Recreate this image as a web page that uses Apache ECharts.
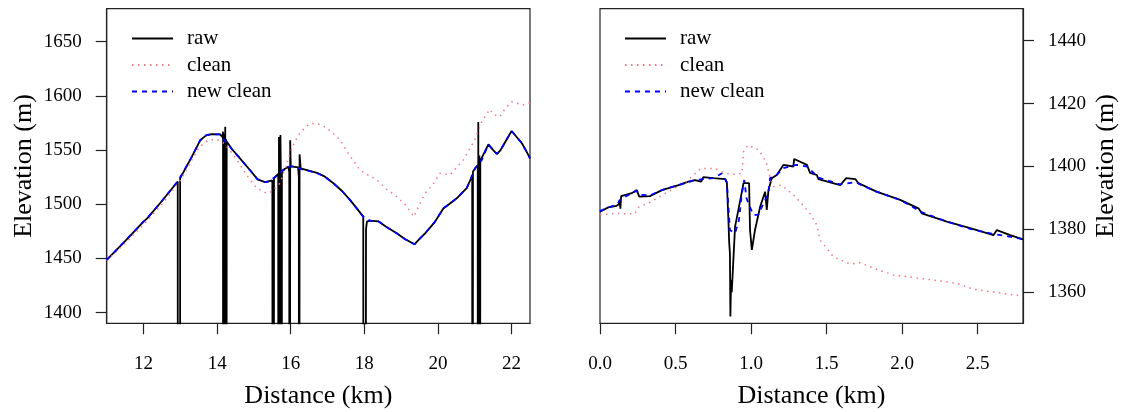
<!DOCTYPE html>
<html>
<head>
<meta charset="utf-8">
<script src="https://cdn.jsdelivr.net/npm/echarts@6/dist/echarts.min.js"></script>
<style>
html,body{margin:0;padding:0;background:#fff;}
#chart{width:1124px;height:412px;}
</style>
</head>
<body>
<div id="chart"></div>
<script>
// ---------- data (distance km, elevation m) ----------
const leftRaw = [[11.0,1448.6],[11.5,1466],[12.0,1484],[12.1,1487],[12.5,1503],[12.93,1521],[12.935,0],[12.99,0],[12.995,1524],[13.3,1543],[13.54,1559],[13.7,1563.5],[13.85,1564.6],[14.08,1564.5],[14.15,1562],[14.16,1567],[14.17,0],[14.19,1565],[14.2,0],[14.22,1571.5],[14.23,0],[14.245,1560],[14.25,0],[14.26,1558],[14.4,1551],[14.62,1542.4],[14.89,1531.6],[15.1,1523],[15.3,1520.5],[15.5,1522],[15.53,1523.5],[15.535,0],[15.545,1524],[15.66,1528],[15.665,0],[15.68,1562],[15.7,1510],[15.705,0],[15.72,1564],[15.74,1500],[15.745,0],[15.76,1531],[15.93,1534.7],[15.96,1530],[15.965,0],[15.985,1559],[16.0,1535],[16.2,1534],[16.22,1525],[16.225,0],[16.24,1546],[16.27,1533],[16.3,1532.3],[16.71,1529],[16.9,1526],[17.16,1519.4],[17.4,1512],[17.61,1504],[17.8,1496],[17.97,1488.6],[17.99,1487],[17.995,0],[18.04,0],[18.045,1477],[18.07,1484],[18.15,1484.9],[18.38,1484.3],[18.6,1479],[18.88,1473.2],[19.1,1468],[19.36,1463.1],[19.5,1468],[19.65,1473.2],[19.9,1483],[20.15,1496.3],[20.3,1500],[20.51,1505.5],[20.78,1514.8],[20.9,1524],[20.93,1527],[20.935,0],[20.95,1530],[21.01,1533.2],[21.08,1536],[21.085,0],[21.095,1576],[21.11,0],[21.125,1545],[21.13,0],[21.15,1540],[21.19,1540.8],[21.37,1555.3],[21.5,1550],[21.6,1546.4],[21.69,1549.4],[22.0,1567.6],[22.28,1556.3],[22.4,1549],[22.5,1542.4]];
const leftClean = [[11.0,1448],[11.5,1464],[12.0,1481],[12.5,1500],[13.0,1522],[13.5,1552],[13.75,1559],[13.99,1560],[14.2,1556],[14.5,1543],[14.8,1527],[15.07,1515],[15.35,1510],[15.5,1512],[15.71,1519.4],[15.85,1533],[15.98,1547],[16.1,1557],[16.25,1566],[16.52,1574.5],[16.7,1574.5],[16.89,1572.2],[17.1,1567],[17.34,1559.3],[17.6,1545],[17.88,1531.6],[18.1,1527],[18.34,1522.4],[18.6,1514],[18.88,1507],[19.1,1500],[19.35,1488.6],[19.5,1500],[19.65,1510],[19.9,1520],[20.05,1528.6],[20.32,1527],[20.69,1540.9],[21.0,1559.3],[21.2,1577],[21.41,1587.6],[21.5,1583],[21.68,1580.8],[21.8,1587],[22.0,1594.6],[22.31,1591.6],[22.5,1593.7]];
const leftNew = [[11.0,1448.6],[11.5,1466],[12.0,1484],[12.1,1487],[12.5,1503],[12.95,1522],[13.3,1543],[13.54,1559],[13.7,1563.5],[13.85,1564.6],[14.08,1564.5],[14.21,1559],[14.4,1551],[14.62,1542.4],[14.89,1531.6],[15.1,1523],[15.3,1520.5],[15.44,1521],[15.53,1524],[15.75,1530],[15.93,1534.7],[16.1,1535],[16.3,1532.3],[16.71,1529],[16.9,1526],[17.16,1519.4],[17.4,1512],[17.61,1504],[17.8,1496],[17.97,1488.6],[18.15,1484.9],[18.38,1484.3],[18.6,1479],[18.88,1473.2],[19.1,1468],[19.36,1463.1],[19.5,1468],[19.65,1473.2],[19.9,1483],[20.15,1496.3],[20.3,1500],[20.51,1505.5],[20.78,1514.8],[20.9,1524],[21.01,1533.2],[21.19,1540.8],[21.37,1555.3],[21.5,1550],[21.6,1546.4],[21.69,1549.4],[22.0,1567.6],[22.28,1556.3],[22.4,1549],[22.5,1542.4]];

const rightRaw = [[0,1385.6],[0.055,1387],[0.11,1387.5],[0.125,1388],[0.13,1389.4],[0.135,1386.6],[0.14,1390.6],[0.21,1391.5],[0.243,1392.5],[0.255,1392.3],[0.26,1390.4],[0.33,1390.6],[0.41,1392.5],[0.52,1394.1],[0.585,1395.2],[0.63,1395.7],[0.67,1395.2],[0.684,1396.6],[0.75,1396.3],[0.83,1396],[0.84,1394.7],[0.85,1383],[0.855,1376],[0.86,1372.4],[0.863,1352.3],[0.868,1364],[0.872,1360],[0.894,1380.9],[0.916,1386.2],[0.95,1394.7],[0.987,1394.7],[0.993,1379.8],[1.005,1373.5],[1.026,1379.8],[1.06,1387.2],[1.093,1392],[1.104,1386.2],[1.115,1392.5],[1.137,1396.3],[1.17,1397.3],[1.214,1400.5],[1.28,1400],[1.285,1402.4],[1.37,1400.5],[1.39,1398],[1.435,1397.3],[1.446,1396],[1.59,1394.1],[1.63,1396.3],[1.69,1396],[1.71,1394.7],[1.83,1392],[1.987,1389.4],[2.108,1386.7],[2.13,1385.1],[2.296,1382.5],[2.45,1380.4],[2.605,1378.2],[2.627,1379.8],[2.715,1378.2],[2.8,1376.8]];
const rightClean = [[0,1384.6],[0.1,1385.1],[0.23,1384.9],[0.254,1387],[0.34,1388.8],[0.45,1392],[0.56,1394.7],[0.62,1397.3],[0.67,1399.4],[0.76,1399.4],[0.83,1397.8],[0.89,1397.5],[0.94,1397.8],[0.95,1404.7],[0.98,1406.8],[1.05,1405.3],[1.1,1401.5],[1.126,1396.3],[1.15,1393.6],[1.2,1394.1],[1.29,1390.6],[1.39,1385.1],[1.435,1381.4],[1.457,1376.6],[1.545,1371.3],[1.656,1369],[1.72,1369.4],[1.81,1367.7],[1.94,1365.5],[2.03,1365],[2.19,1364],[2.36,1362.9],[2.47,1361],[2.63,1359.9],[2.8,1358.8]];
const rightNew = [[0,1385.8],[0.055,1387],[0.11,1387.8],[0.14,1389.8],[0.21,1391.5],[0.243,1392.3],[0.26,1391],[0.33,1390.8],[0.41,1392.5],[0.52,1394.1],[0.63,1395.7],[0.75,1396.3],[0.806,1397.8],[0.84,1395],[0.86,1379.8],[0.894,1378.8],[0.92,1383],[0.938,1391],[0.955,1395.7],[0.97,1389.9],[0.987,1387.8],[1.015,1384.6],[1.048,1384.6],[1.07,1387],[1.115,1391.5],[1.126,1396.3],[1.17,1397.3],[1.214,1399.5],[1.3,1400.5],[1.37,1400],[1.446,1396.5],[1.59,1394.3],[1.69,1395],[1.83,1392],[1.987,1389.4],[2.13,1385.5],[2.296,1382.5],[2.45,1380.2],[2.605,1378.5],[2.7,1377.8],[2.8,1376.9]];

const seriesNames = ['raw','clean','new clean'];
const leftXTicks = [12,14,16,18,20,22];
const leftYTicks = [1400,1450,1500,1550,1600,1650];
const rightXTicks = [0,0.5,1,1.5,2,2.5];
const rightYTicks = [1360,1380,1400,1420,1440];
const xTitle = 'Distance (km)';
const yTitle = 'Elevation (m)';

// ---------- styling ----------
const FONT = "'Liberation Serif','Times New Roman',serif";
const AX = '#222';
const colors = {raw:'#000000', clean:'#f0768a', 'new clean':'#0000ff'};

function xAxis(gi, min, max, ticks, decimals){
  return {
    type:'value', gridIndex:gi, min:min, max:max,
    name:xTitle, nameLocation:'middle', nameGap:60,
    nameTextStyle:{fontFamily:FONT, fontSize:26, color:'#000'},
    axisLine:{show:true, onZero:false, lineStyle:{color:AX, width:1.2}},
    axisTick:{show:true, length:11, inside:false, customValues:ticks, lineStyle:{color:AX, width:1.2}},
    axisLabel:{customValues:ticks, margin:31, fontFamily:FONT, fontSize:19, color:'#000',
      formatter:v=>decimals? Number(v).toFixed(decimals): String(v)},
    splitLine:{show:false}
  };
}
function yAxis(gi, min, max, ticks, pos){
  return {
    type:'value', gridIndex:gi, min:min, max:max, position:pos,
    name:yTitle, nameLocation:'middle', nameGap:70, nameRotate:90,
    nameTextStyle:{fontFamily:FONT, fontSize:26, color:'#000'},
    axisLine:{show:true, onZero:false, lineStyle:{color:AX, width:1.2}},
    axisTick:{show:true, length:11, inside:false, customValues:ticks, lineStyle:{color:AX, width:1.2}},
    axisLabel:{customValues:ticks, margin:25, fontFamily:FONT, fontSize:19, color:'#000',
      formatter:v=>String(v)},
    splitLine:{show:false}
  };
}
function mk(name, data, idx){
  const type = name==='raw' ? 'solid' : (name==='clean' ? [1.5,4.5] : [5,5]);
  return {
    name:name, type:'line', xAxisIndex:idx, yAxisIndex:idx, data:data,
    showSymbol:false, symbol:'none', smooth:false, clip:true, sampling:null,
    lineStyle:{color:colors[name], width:name==='clean'?1.5:1.8, type:type},
    itemStyle:{color:colors[name]},
    emphasis:{disabled:true}, z: name==='new clean'?4:(name==='clean'?3:2)
  };
}
function legend(left){
  return {
    orient:'vertical', left:left, top:23, itemWidth:41, itemHeight:14, itemGap:5.5,
    data:seriesNames, selectedMode:false,
    itemStyle:{opacity:0},
    textStyle:{fontFamily:FONT, fontSize:21, color:'#000', lineHeight:21, padding:[0,0,0,9]}
  };
}

const chart = echarts.init(document.getElementById('chart'), null, {renderer:'canvas'});
chart.setOption({
  animation:false,
  backgroundColor:'#fff',
  grid:[
    {left:106.7, top:8.7, width:423.3, height:314.6, outerBoundsMode:'none', containLabel:false, show:true, borderColor:AX, borderWidth:1.2, backgroundColor:'transparent'},
    {left:600, top:8.7, width:423, height:314.6, outerBoundsMode:'none', containLabel:false, show:true, borderColor:AX, borderWidth:1.2, backgroundColor:'transparent'}
  ],
  legend:[legend(126), legend(619)],
  xAxis:[xAxis(0, 11, 22.5, leftXTicks, 0), xAxis(1, 0, 2.8, rightXTicks, 1)],
  yAxis:[yAxis(0, 1390.2, 1680.4, leftYTicks, 'left'), yAxis(1, 1350.15, 1450.17, rightYTicks, 'right')],
  series:[
    mk('raw', leftRaw, 0), mk('clean', leftClean, 0), mk('new clean', leftNew, 0),
    mk('raw', rightRaw, 1), mk('clean', rightClean, 1), mk('new clean', rightNew, 1)
  ]
});
</script>
</body>
</html>
